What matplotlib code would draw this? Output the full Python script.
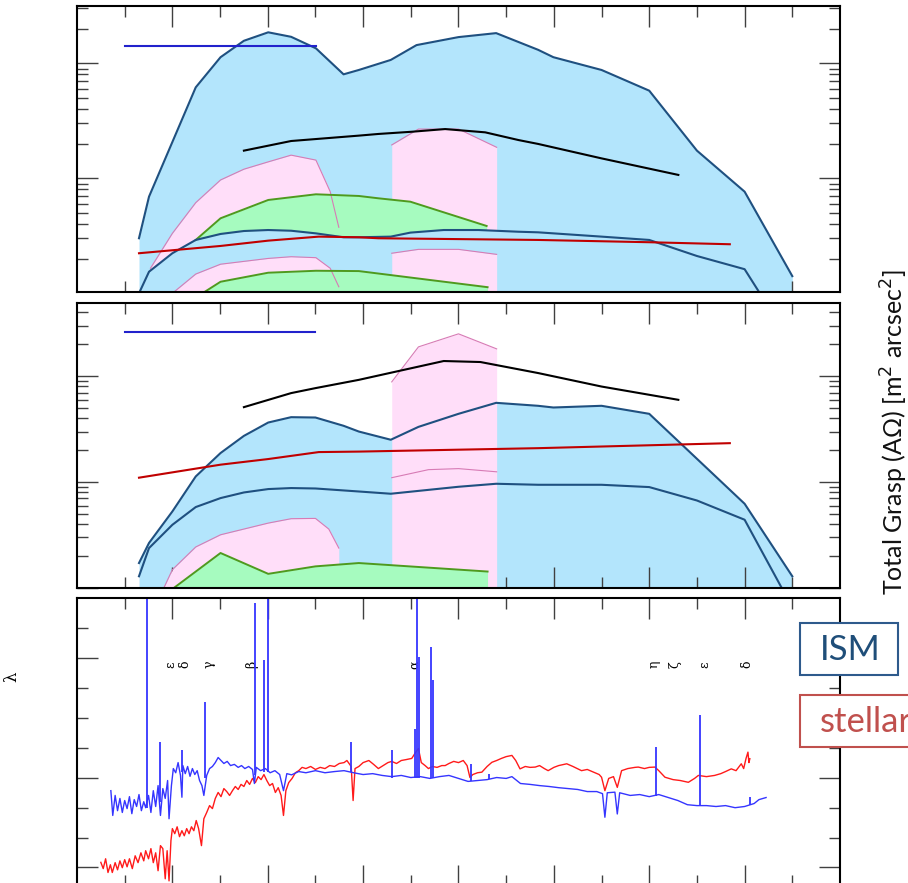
import numpy as np
import matplotlib
matplotlib.use("Agg")
import matplotlib.pyplot as plt
from matplotlib.ticker import FixedLocator, NullFormatter
from matplotlib.patches import Rectangle

plt.rcParams['font.family'] = ['Lato', 'DejaVu Sans']

# ---------------- top panel (grasp, case 1) ----------------
t_env_x = [1.30, 1.51, 2.49, 3.01, 3.50, 4.01, 4.49, 5.01, 5.59, 5.91, 6.58, 7.12, 8.00, 8.79, 9.67, 9.99, 11.0, 12.0, 13.0, 14.0, 15.0]
t_env_y = [3.01, 6.92, 61.8, 113, 157, 186, 170, 135, 80.2, 87.5, 107, 144, 169, 183, 131, 113, 87.5, 57.8, 17.4, 7.65, 1.41]

t_inn_x = [1.30, 1.51, 2.00, 2.49, 3.01, 3.50, 4.01, 4.49, 5.01, 5.59, 5.91, 6.58, 6.99, 7.69, 8.42, 9.26, 9.67, 11.0, 12.0, 13.0, 14.0, 14.32]
t_inn_y = [1.0, 1.54, 2.23, 2.91, 3.28, 3.48, 3.55, 3.50, 3.32, 3.07, 3.07, 3.11, 3.37, 3.55, 3.55, 3.43, 3.39, 3.11, 2.91, 2.11, 1.62, 1.0]

t_pink_hi_x = [1.54, 2.00, 2.49, 3.01, 3.50, 4.01, 4.49, 5.01, 5.31, 5.49]
t_pink_hi_y = [1.65, 3.32, 6.14, 9.67, 12.0, 13.9, 15.9, 14.4, 7.65, 3.75]
t_pink_lo_x = [2.00, 2.49, 3.01, 4.01, 4.49, 5.01, 5.31, 5.49]
t_pink_lo_y = [1.0, 1.47, 1.79, 2.01, 2.08, 2.04, 1.65, 1.14]

t_block_x = [6.60, 7.16, 8.00, 8.80]
t_block_hi_y = [19.5, 26.8, 26.8, 18.6]
t_block_lo_y = [2.23, 2.41, 2.41, 2.18]

t_green_hi_x = [2.49, 3.01, 4.01, 5.01, 5.91, 6.32, 6.99, 8.59]
t_green_hi_y = [2.91, 4.49, 6.48, 7.26, 7.02, 6.70, 6.26, 3.85]
t_green_lo_x = [2.63, 3.01, 4.01, 5.01, 5.91, 8.61]
t_green_lo_y = [1.0, 1.26, 1.51, 1.57, 1.56, 1.13]

t_black_x = [3.50, 4.49, 5.91, 6.32, 7.02, 7.72, 8.56, 9.26, 9.67, 11.0, 12.61]
t_black_y = [17.4, 21.1, 23.5, 24.3, 25.4, 26.8, 25.1, 21.5, 19.9, 14.9, 10.7]

t_red_x = [1.30, 3.01, 4.01, 5.07, 5.91, 6.32, 9.67, 12.0, 13.69]
t_red_y = [2.23, 2.58, 2.87, 3.11, 3.07, 3.01, 2.91, 2.78, 2.67]

t_hline_x = [1.0, 5.01]
t_hline_y = [141, 141]

# ---------------- middle panel (grasp, case 2) ----------------
m_env_x = [1.30, 1.51, 2.00, 2.49, 3.01, 3.50, 4.01, 4.49, 5.00, 5.59, 5.91, 6.58, 7.16, 8.00, 8.79, 9.67, 9.99, 11.0, 12.0, 14.0, 15.0]
m_env_y = [1.72, 2.66, 5.28, 11.3, 18.8, 27.3, 36.5, 41.0, 40.7, 34.0, 30.0, 25.1, 33.2, 44.1, 56.0, 52.5, 50.6, 52.5, 44.1, 6.24, 1.29]

m_inn_x = [1.30, 1.51, 2.00, 2.49, 3.01, 3.50, 4.01, 4.49, 5.00, 5.91, 6.58, 8.00, 8.79, 9.67, 11.0, 12.0, 13.0, 14.0, 14.80]
m_inn_y = [1.29, 2.38, 3.95, 5.81, 7.06, 7.98, 8.59, 8.78, 8.70, 8.15, 7.76, 9.03, 9.64, 9.43, 9.43, 8.97, 6.70, 4.41, 0.96]

m_pink_x = [1.82, 2.00, 2.49, 3.01, 4.01, 4.49, 5.00, 5.28, 5.49]
m_pink_y = [1.0, 1.49, 2.44, 3.18, 4.10, 4.51, 4.54, 3.60, 2.38]

m_block_x = [6.60, 7.16, 8.00, 8.80]
m_block_y = [88.3, 189, 251, 181]
m_block_line_x = [6.60, 7.37, 8.00, 8.80]
m_block_line_y = [11.0, 13.1, 13.4, 12.5]

m_green_x = [2.03, 3.01, 4.01, 5.00, 5.91, 8.61]
m_green_y = [1.0, 2.14, 1.36, 1.60, 1.72, 1.43]

m_black_x = [3.50, 4.49, 5.00, 5.91, 7.69, 8.46, 9.67, 11.0, 12.61]
m_black_y = [51.0, 69.2, 77.1, 92.3, 139, 136, 107, 79.8, 59.8]

m_red_x = [1.30, 3.01, 4.01, 5.07, 5.91, 9.67, 13.69]
m_red_y = [11.0, 14.6, 16.5, 19.2, 19.4, 20.9, 23.3]

m_hline_x = [1.0, 5.0]
m_hline_y = [264, 264]

# ---------------- bottom panel (spectra) ----------------
ism_x = [0.71, 0.75, 0.80, 0.85, 0.90, 0.95, 1.00, 1.05, 1.10, 1.15, 1.20, 1.25, 1.30, 1.35, 1.40, 1.44,
         1.50, 1.55, 1.60, 1.65, 1.70, 1.75, 1.80, 1.85, 1.90, 1.93, 1.98, 2.02, 2.07, 2.12, 2.17, 2.20,
         2.22, 2.27, 2.32, 2.37, 2.42, 2.47, 2.52, 2.57, 2.62, 2.66, 2.72, 2.78, 2.84, 2.90, 2.96, 3.02,
         3.08, 3.15, 3.22, 3.30, 3.38, 3.45, 3.52, 3.60, 3.68, 3.72, 3.76, 3.85, 3.95, 4.05, 4.15, 4.25,
         4.33, 4.40, 4.50, 4.65, 4.80, 5.00, 5.20, 5.40, 5.60, 5.80, 6.00, 6.20, 6.40, 6.60, 6.80, 7.00,
         7.20, 7.40, 7.60, 7.80, 8.00, 8.20, 8.40, 8.60, 8.80, 9.00, 9.12, 9.30, 9.50, 9.70, 9.90, 10.10,
         10.30, 10.50, 10.70, 10.90, 11.02, 11.07, 11.12, 11.28, 11.33, 11.38, 11.60, 11.80, 12.00, 12.20,
         12.40, 12.60, 12.80, 13.00, 13.20, 13.40, 13.60, 13.80, 14.00, 14.20, 14.30, 14.45]
ism_y = [2.57, 1.74, 2.41, 1.90, 2.31, 1.84, 2.24, 1.97, 2.37, 1.80, 2.27, 2.04, 2.44, 1.90, 2.20, 2.00,
         2.41, 1.84, 2.57, 2.04, 2.74, 1.74, 2.64, 2.31, 2.91, 1.63, 2.74, 3.31, 3.17, 3.51, 3.08, 2.35,
         3.41, 3.14, 3.38, 3.05, 3.31, 3.11, 3.24, 2.91, 2.74, 2.41, 3.08, 3.31, 3.38, 3.51, 3.68, 3.58,
         3.48, 3.55, 3.41, 3.45, 3.35, 3.41, 3.31, 3.38, 3.28, 2.81, 3.35, 3.24, 3.31, 3.17, 3.24, 3.11,
         2.57, 3.14, 3.10, 3.21, 3.17, 3.24, 3.17, 3.21, 3.24, 3.17, 3.11, 3.14, 3.08, 3.04, 3.08, 3.01,
         3.04, 2.98, 3.04, 3.08, 2.98, 2.88, 2.91, 2.94, 3.01, 2.98, 3.04, 2.81, 2.78, 2.74, 2.71, 2.67,
         2.64, 2.61, 2.54, 2.54, 2.47, 1.68, 2.50, 2.52, 1.79, 2.50, 2.41, 2.44, 2.37, 2.44,
         2.34, 2.24, 2.10, 2.07, 2.07, 2.04, 2.07, 2.00, 2.04, 2.14, 2.27, 2.34]

spike_x = [1.46, 1.74, 2.21, 2.68, 3.73, 3.92, 4.01, 5.75, 6.60, 7.09, 7.13, 7.18, 7.43, 7.46, 8.26, 8.65, 12.14, 13.07, 14.11]
spike_top = [9.5, 4.19, 3.94, 5.54, 8.84, 6.94, 9.5, 4.19, 3.92, 4.65, 9.5, 7.05, 7.38, 6.27, 3.47, 3.14, 4.03, 5.11, 2.35]
spike_base = [2.0, 2.2, 3.2, 3.0, 3.1, 3.2, 3.2, 3.2, 3.0, 3.0, 3.0, 3.0, 3.0, 3.0, 2.9, 2.95, 2.4, 2.05, 2.1]

star_x = [0.50, 0.55, 0.60, 0.65, 0.70, 0.74, 0.80, 0.85, 0.90, 0.95, 1.00, 1.05, 1.10, 1.16, 1.22, 1.28,
          1.34, 1.40, 1.44, 1.50, 1.55, 1.60, 1.65, 1.70, 1.75, 1.80, 1.85, 1.89, 1.93, 1.97, 2.00, 2.05,
          2.10, 2.15, 2.20, 2.25, 2.30, 2.35, 2.40, 2.45, 2.50, 2.55, 2.61, 2.66, 2.72, 2.78, 2.84, 2.90,
          2.96, 3.02, 3.08, 3.14, 3.20, 3.26, 3.32, 3.38, 3.44, 3.50, 3.56, 3.62, 3.68, 3.74, 3.80, 3.86,
          3.92, 3.98, 4.04, 4.10, 4.16, 4.22, 4.28, 4.33, 4.38, 4.44, 4.51, 4.58, 4.65, 4.72, 4.80, 4.90,
          5.00, 5.10, 5.20, 5.30, 5.40, 5.50, 5.60, 5.66, 5.75, 5.79, 5.83, 5.91, 6.00, 6.12, 6.22, 6.32,
          6.42, 6.52, 6.60, 6.70, 6.80, 6.90, 7.02, 7.10, 7.16, 7.22, 7.30, 7.37, 7.45, 7.55, 7.65, 7.72,
          7.80, 7.90, 8.00, 8.10, 8.18, 8.24, 8.30, 8.40, 8.49, 8.60, 8.70, 8.80, 8.90, 9.00, 9.12, 9.20,
          9.29, 9.40, 9.50, 9.61, 9.70, 9.80, 9.88, 10.00, 10.10, 10.27, 10.40, 10.58, 10.70, 10.83, 10.95, 11.00,
          11.07, 11.15, 11.25, 11.33, 11.42, 11.55, 11.70, 11.77, 11.90, 12.00, 12.12, 12.20, 12.33, 12.50, 12.65, 12.82,
          12.95, 13.03, 13.20, 13.37, 13.50, 13.60, 13.72, 13.82, 13.93, 13.98, 14.03, 14.07, 14.09, 14.11]
star_y = [0.17, -0.04, 0.29, -0.17, 0.09, -0.17, 0.16, -0.08, 0.22, -0.01, 0.26, 0.02, 0.29, -0.04, 0.39, 0.16,
          0.49, 0.22, 0.56, 0.29, 0.63, 0.16, 0.49, -0.11, 0.73, 0.63, -0.38, 0.56, -0.45, 0.90, 1.30, 1.13,
          1.36, 1.03, 1.23, 1.06, 1.30, 1.13, 1.36, 1.23, 1.57, 1.30, 0.73, 1.63, 1.84, 2.07, 1.97, 2.31,
          2.51, 2.37, 2.64, 2.54, 2.41, 2.57, 2.71, 2.61, 2.78, 2.71, 2.91, 2.78, 2.98, 2.84, 3.04, 2.94,
          3.11, 2.91, 2.74, 2.81, 2.51, 2.67, 2.41, 1.74, 2.57, 2.84, 2.98, 3.17, 3.24, 3.35, 3.31, 3.38,
          3.28, 3.35, 3.31, 3.41, 3.38, 3.48, 3.51, 3.58, 3.38, 2.24, 3.31, 3.38, 3.51, 3.58, 3.45, 3.31,
          3.41, 3.51, 3.55, 3.48, 3.58, 3.61, 3.65, 3.85, 3.98, 3.51, 3.41, 3.31, 3.38, 3.35, 3.41, 3.41,
          3.48, 3.55, 3.51, 3.58, 3.41, 3.01, 3.11, 3.17, 3.19, 3.38, 3.52, 3.58, 3.65, 3.71, 3.75, 3.58,
          3.30, 3.38, 3.35, 3.36, 3.41, 3.31, 3.24, 3.35, 3.41, 3.47, 3.38, 3.24, 3.28, 3.19, 3.11, 3.02,
          2.57, 2.98, 3.04, 2.68, 3.24, 3.31, 3.35, 3.36, 3.31, 3.35, 3.36, 3.24, 3.02, 2.94, 2.91, 2.85,
          2.98, 3.08, 3.04, 3.08, 3.14, 3.21, 3.30, 3.24, 3.47, 3.31, 3.65, 3.86, 3.51, 3.64]

line_names = ["ε", "δ", "γ", "β", "α", "η", "ζ", "ε", "δ"]
line_x = [1.96, 2.26, 2.76, 3.67, 7.07, 12.10, 12.54, 13.17, 14.04]

# colours
c_fill = "#b3e5fc"
c_edge = "#1f5080"
c_pink = "#ffdef9"
c_pink_e = "#d77bb5"
c_green = "#a6fbbf"
c_green_e = "#4e9a1e"
c_red = "#c00000"
c_hline = "#2222cc"

fig = plt.figure(figsize=(9.08, 8.83), dpi=100)
ax1 = fig.add_axes([0.0848, 0.6693, 0.8403, 0.3239])
ax2 = fig.add_axes([0.0848, 0.3341, 0.8403, 0.3231])
ax3 = fig.add_axes([0.0848, -0.003, 0.8403, 0.3254])

# top panel
base = 0.5
ax1.fill_between(t_env_x, t_env_y, base, color=c_fill, lw=0, zorder=1)
ax1.fill_between(t_pink_hi_x, t_pink_hi_y, base, color=c_pink, lw=0, zorder=2)
ax1.fill_between(t_block_x, t_block_hi_y, base, color=c_pink, lw=0, zorder=2)
ax1.fill_between(t_green_hi_x, t_green_hi_y, base, color=c_green, lw=0, zorder=2.5)
ax1.fill_between(t_inn_x, t_inn_y, base, color=c_fill, lw=0, zorder=3)
ax1.fill_between(t_pink_lo_x, t_pink_lo_y, base, color=c_pink, lw=0, zorder=3.5)
ax1.fill_between(t_block_x, t_block_lo_y, base, color=c_pink, lw=0, zorder=3.5)
ax1.fill_between(t_green_lo_x, t_green_lo_y, base, color=c_green, lw=0, zorder=3.8)

ax1.plot(t_pink_hi_x, t_pink_hi_y, color=c_pink_e, lw=0.8, zorder=5)
ax1.plot(t_pink_lo_x, t_pink_lo_y, color=c_pink_e, lw=0.8, zorder=5)
ax1.plot(t_block_x, t_block_hi_y, color=c_pink_e, lw=0.8, zorder=5)
ax1.plot(t_block_x, t_block_lo_y, color=c_pink_e, lw=0.8, zorder=5)
ax1.plot(t_green_hi_x, t_green_hi_y, color=c_green_e, lw=1.4, zorder=5)
ax1.plot(t_green_lo_x, t_green_lo_y, color=c_green_e, lw=1.4, zorder=5)
ax1.plot(t_env_x, t_env_y, color=c_edge, lw=1.5, zorder=6)
ax1.plot(t_inn_x, t_inn_y, color=c_edge, lw=1.5, zorder=6)
ax1.plot(t_black_x, t_black_y, color="black", lw=1.5, zorder=6)
ax1.plot(t_red_x, t_red_y, color=c_red, lw=1.5, zorder=6)
ax1.plot(t_hline_x, t_hline_y, color=c_hline, lw=1.5, zorder=6)
ax1.set_yscale("log")
ax1.set_ylim(1.026, 315)

# middle panel
ax2.fill_between(m_env_x, m_env_y, base, color=c_fill, lw=0, zorder=1)
ax2.fill_between(m_pink_x, m_pink_y, base, color=c_pink, lw=0, zorder=2)
ax2.fill_between(m_block_x, m_block_y, base, color=c_pink, lw=0, zorder=2)
ax2.fill_between(m_green_x, m_green_y, base, color=c_green, lw=0, zorder=3)
ax2.plot(m_pink_x, m_pink_y, color=c_pink_e, lw=0.8, zorder=5)
ax2.plot(m_block_x, m_block_y, color=c_pink_e, lw=0.8, zorder=5)
ax2.plot(m_block_line_x, m_block_line_y, color=c_pink_e, lw=0.8, zorder=5)
ax2.plot(m_green_x, m_green_y, color=c_green_e, lw=1.4, zorder=5)
ax2.plot(m_env_x, m_env_y, color=c_edge, lw=1.5, zorder=6)
ax2.plot(m_inn_x, m_inn_y, color=c_edge, lw=1.5, zorder=6)
ax2.plot(m_black_x, m_black_y, color="black", lw=1.5, zorder=6)
ax2.plot(m_red_x, m_red_y, color=c_red, lw=1.5, zorder=6)
ax2.plot(m_hline_x, m_hline_y, color=c_hline, lw=1.5, zorder=6)
ax2.set_yscale("log")
ax2.set_ylim(1.0, 494)

# bottom panel
ax3.plot(star_x, star_y, color="#ff1a1a", lw=1.0, zorder=3)
ax3.plot(ism_x, ism_y, color="#3535ff", lw=1.0, zorder=4)
ax3.vlines(spike_x, spike_base, spike_top, color="#3535ff", lw=1.3, zorder=4)
for name, lx in zip(line_names, line_x):
    ax3.text(lx, 6.8, name, rotation=90, ha="center", va="center", fontsize=9,
             family=["DejaVu Serif"])
ax3.set_ylim(-0.61, 9.01)
ax3.yaxis.set_major_locator(FixedLocator([0, 3, 7]))
ax3.yaxis.set_minor_locator(FixedLocator([1, 2, 4, 5, 6, 8]))

for ax in (ax1, ax2, ax3):
    ax.set_xlim(0, 16)
    ax.xaxis.set_major_locator(FixedLocator([2, 4, 6, 8, 10, 12, 14]))
    ax.xaxis.set_minor_locator(FixedLocator([1, 3, 5, 7, 9, 11, 13, 15]))
    ax.tick_params(which="both", direction="in", top=True, bottom=True, left=True, right=True,
                   labelleft=False, labelbottom=False, color="0.25", width=1.0)
    ax.tick_params(which="major", length=15)
    ax.tick_params(which="minor", length=8)
    ax.yaxis.set_minor_formatter(NullFormatter())
    ax.yaxis.set_major_formatter(NullFormatter())
    for s in ax.spines.values():
        s.set_linewidth(1.5)
        s.set_zorder(10)

# labels outside the axes
fig.text(12 / 908, 1 - 677 / 883, "λ", rotation=90, ha="center", va="center", fontsize=12,
         family=["DejaVu Serif"])
fig.text(894 / 908, 1 - 432 / 883, "Total Grasp (AΩ) [m$^2$ arcsec$^2$]", rotation=90,
         ha="center", va="center", fontsize=18, color="#111111")

fig.patches.append(Rectangle((800 / 908, 1 - 675 / 883), 98 / 908, 52 / 883, transform=fig.transFigure,
                             facecolor="white", edgecolor="#2e5a8c", lw=1.5))
fig.text(820 / 908, 1 - 650 / 883, "ISM", ha="left", va="center", fontsize=25, color="#1f4e79")
fig.patches.append(Rectangle((800 / 908, 1 - 747 / 883), 130 / 908, 52 / 883, transform=fig.transFigure,
                             facecolor="white", edgecolor="#c0504d", lw=1.5))
fig.text(820 / 908, 1 - 722 / 883, "stellar", ha="left", va="center", fontsize=25, color="#c0504d")

fig.savefig("out.png", dpi=100)
